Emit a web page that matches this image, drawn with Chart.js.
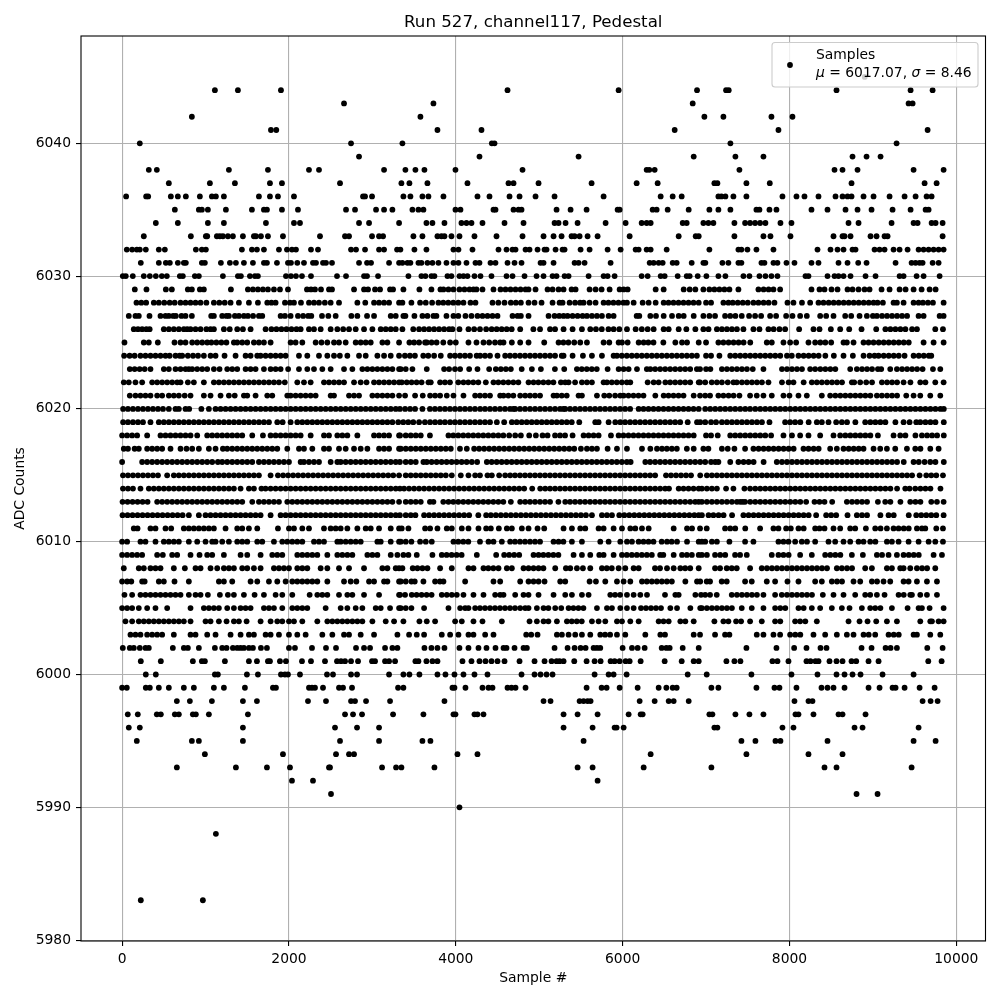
<!DOCTYPE html>
<html>
<head>
<meta charset="utf-8">
<title>Run 527, channel117, Pedestal</title>
<script src="https://cdn.jsdelivr.net/npm/chart.js@4"></script>
<style>
  html, body { margin: 0; padding: 0; background: #fff; }
  canvas { display: block; }
</style>
</head>
<body>
<canvas id="pedestal" width="1000" height="1000"></canvas>
<script>
// sample numbers, one array per ADC level
var s6045 = [8902]
var s6044 = [1112,1388,1904,4620,5952,6892,7240,7272,8564,9452,9716]
var s6043 = [2660,3732,6840,9428,9476]
var s6042 = [836,3576,6980,7208,7784,8036]
var s6041 = [1784,1848,3780,4308,6624,7868,9656]
var s6040 = [212,2744,3360,4432,4464,7292,9284]
var s6039 = [2840,4284,5472,6852,7352,7688,8756,8924,9092]
var s6038 = [320,416,1280,1748,2240,2360,3140,3396,3516,3624,3996,4800,6288,6320,6384,7400,8540,8636,8816,9488,9848]
var s6037 = [560,1052,1352,1772,1916,2612,3348,3444,3660,4140,4632,4692,4992,5628,6168,6420,7100,7136,7484,7764,8744,9620,9764]
var s6036 = [48,288,312,584,668,764,932,1076,1124,1220,1640,1772,1868,2060,2888,2912,2996,3372,3456,3600,3672,3852,4260,4404,4644,4764,4956,5184,5772,6456,6600,6708,7148,7184,7232,7328,7484,7916,8084,8180,8348,8552,8636,8696,8744,8888,9008,9200,9380,9512,9644,9704]
var s6035 = [632,920,956,1028,1244,1556,1700,1736,1916,2108,2684,2792,3044,3140,3240,3480,3552,3612,3996,4056,4452,4476,4692,4752,4788,5208,5376,5568,5940,5964,6360,6408,6540,6792,7040,7148,7292,7604,7640,7760,7844,8264,8456,8672,8816,8984,9236,9452,9632,9668]
var s6034 = [404,668,1028,1220,1724,2060,2132,2840,2960,3320,3648,3720,3864,4068,4128,4188,4320,4584,4812,5184,5232,5316,5460,5796,6036,6228,6288,6336,6720,6768,6968,7028,7088,7340,7468,7528,7588,7648,7712,7892,8024,8708,8828,9224,9488,9536,9704,9752,9836]
var s6033 = [260,824,1004,1020,1136,1172,1208,1268,1328,1448,1580,1604,1664,1748,1928,2372,2672,2720,2996,3080,3128,3492,3600,3780,3828,3864,3948,4044,4224,4488,4800,5052,5172,5268,5388,5424,5484,5580,5700,6084,6672,6876,6912,7340,7688,7772,8012,8528,8636,8660,8732,8972,9044,9140,9176,9836]
var s6032 = [56,120,176,212,284,440,512,884,956,1004,1436,1556,1616,1700,1880,1976,2036,2084,2264,2348,2744,2804,2912,3080,3140,3296,3336,3504,3648,3972,4032,4200,4512,4608,4680,4716,4836,4884,4980,5064,5088,5196,5280,5304,5496,5604,5820,5976,6156,6192,6288,6336,6528,7040,7388,7424,7496,7604,7808,8336,8492,8576,8648,8756,8792,9020,9080,9140,9248,9320,9416,9548,9608,9668,9728,9788,9848]
var s6031 = [224,440,524,572,668,740,764,956,992,1184,1292,1364,1460,1568,1700,1736,1856,1988,2024,2100,2180,2288,2324,2408,2444,2516,2840,2936,2984,3200,3320,3360,3420,3456,3552,3588,3660,3720,3792,3888,3972,4032,4128,4236,4284,4416,4476,4620,4704,4788,5016,5052,5172,5424,5472,5544,5856,6324,6372,6432,6480,6600,6648,6828,6968,6992,7196,7268,7388,7424,7664,7700,7808,7856,7964,8060,8264,8348,8588,8696,8824,8924,9272,9464,9512,9560,9596,9716,9788]
var s6030 = [8,44,128,260,332,404,476,536,692,728,872,920,1208,1388,1424,1532,1592,1628,1964,2024,2084,2156,2264,2576,2684,2900,2936,3068,3432,3588,3636,3708,3744,3900,3948,4044,4092,4140,4224,4296,4428,4608,4680,4824,4968,5052,5160,5208,5304,5352,5592,5772,5820,5904,6228,6300,6456,6504,6660,6768,6804,6900,7004,7148,7232,7448,7520,7640,7712,7784,7856,8192,8228,8456,8540,8588,8648,8732,8912,9032,9320,9368,9524,9608,9800]
var s6029 = [152,292,524,596,788,836,932,980,1304,1508,1568,1628,1688,1748,1820,1892,1988,2216,2264,2312,2384,2480,2516,2780,2900,2948,3032,3092,3212,3248,3372,3564,3708,3816,3852,3912,3972,4044,4104,4164,4212,4248,4320,4452,4536,4596,4656,4716,4776,4836,4872,4956,5100,5160,5232,5292,5388,5436,5604,5676,5748,5844,5964,6012,6060,6396,6492,6732,6804,6872,6968,7040,7100,7160,7220,7280,7388,7628,7690,7750,7808,7888,8264,8360,8420,8504,8576,8696,8756,8828,8900,8960,9104,9200,9320,9392,9488,9584,9680,9752]
var s6028 = [172,230,288,380,440,505,570,630,700,760,820,880,940,1010,1100,1165,1230,1300,1400,1520,1628,1740,1790,1840,1952,2012,2060,2144,2240,2300,2360,2430,2500,2600,2820,2915,3020,3080,3140,3200,3320,3360,3468,3572,3640,3716,3792,3850,3910,3970,4030,4092,4176,4236,4440,4510,4584,4660,4720,4780,4872,4944,5028,5160,5244,5280,5364,5430,5490,5532,5604,5676,5772,5830,5890,5950,6010,6052,6132,6240,6312,6396,6492,6550,6610,6670,6730,6790,6850,6912,7000,7060,7208,7268,7320,7380,7440,7500,7568,7628,7690,7750,7820,7976,8048,8150,8248,8348,8408,8470,8530,8590,8650,8710,8770,8830,8890,8950,9008,9056,9120,9248,9288,9368,9488,9548,9600,9660,9720,9848]
var s6027 = [80,160,200,328,460,520,560,612,644,712,760,836,1068,1100,1200,1250,1280,1352,1400,1460,1508,1570,1640,1680,1900,1952,2020,2108,2170,2230,2268,2396,2472,2560,2748,2820,2936,3020,3220,3280,3372,3396,3504,3600,3660,3732,3768,3888,3972,4030,4116,4188,4260,4320,4380,4440,4500,4680,4740,4780,4872,5112,5184,5240,5292,5340,5400,5460,5520,5572,5632,5692,5752,5832,5892,6168,6200,6332,6400,6492,6592,6672,6732,6852,6968,7040,7108,7228,7290,7352,7428,7516,7588,7660,7768,7840,7960,8036,8128,8208,8368,8440,8528,8668,8740,8840,8928,9000,9048,9110,9170,9230,9290,9350,9410,9548,9608,9800,9848]
var s6026 = [140,190,240,290,330,500,560,620,680,740,780,820,880,940,1010,1060,1100,1220,1290,1380,1448,1540,1720,1790,1850,1910,1970,2030,2090,2140,2240,2300,2380,2500,2580,2650,2720,2800,2900,3000,3100,3160,3220,3280,3360,3490,3560,3620,3680,3740,3800,3860,3920,3960,4044,4152,4220,4290,4364,4430,4490,4550,4610,4670,4772,4930,5010,5130,5190,5292,5400,5512,5612,5680,5750,5830,5892,5960,6052,6156,6230,6300,6372,6492,6552,6672,6764,6872,6968,7030,7130,7190,7250,7310,7370,7448,7568,7640,7748,7810,7880,7948,8116,8288,8360,8496,8608,8716,8864,9040,9150,9210,9270,9330,9390,9470,9528,9748,9840]
var s6025 = [28,260,320,428,628,700,760,840,900,960,1020,1070,1130,1190,1250,1340,1380,1440,1500,1580,1640,1700,1780,2020,2080,2160,2320,2390,2460,2540,2600,2680,2800,2860,2920,2980,3120,3180,3320,3444,3500,3560,3632,3652,3710,3770,3850,3932,4000,4152,4248,4332,4400,4470,4532,4572,4672,4772,4872,5060,5232,5290,5350,5420,5492,5572,5772,5840,5952,5992,6060,6192,6252,6308,6370,6488,6632,6712,6772,6912,7000,7148,7208,7270,7330,7390,7450,7530,7728,7788,7928,8008,8080,8228,8308,8370,8430,8500,8648,8688,8768,8888,8948,9008,9070,9130,9190,9250,9310,9370,9430,9608,9728,9848]
var s6024 = [24,90,150,220,280,340,400,460,520,570,640,690,720,788,850,910,980,1060,1120,1228,1360,1480,1540,1620,1660,1720,1780,1840,1900,1960,2120,2220,2360,2460,2540,2610,2700,2840,2920,3060,3140,3220,3320,3390,3450,3510,3610,3670,3740,3820,3932,3990,4050,4110,4170,4250,4292,4350,4410,4500,4592,4650,4710,4770,4830,4890,4950,5010,5070,5130,5190,5270,5292,5400,5524,5632,5752,5892,5932,5990,6050,6110,6170,6230,6290,6350,6410,6470,6530,6590,6650,6710,6770,6830,6890,7000,7060,7160,7290,7350,7410,7470,7530,7590,7650,7710,7770,7830,7890,7970,8028,8108,8170,8230,8290,8350,8430,8532,8648,8760,8888,8960,9020,9068,9130,9190,9250,9310,9380,9488,9550,9610,9670,9700]
var s6023 = [92,150,210,270,340,500,560,640,700,760,800,840,900,960,1020,1100,1168,1260,1320,1380,1480,1540,1600,1700,1780,1840,1900,1990,2120,2220,2300,2400,2500,2660,2760,2880,2940,3000,3060,3120,3180,3240,3320,3340,3400,3480,3652,3860,3920,3990,4052,4160,4260,4400,4480,4540,4600,4660,4790,4912,5020,5188,5300,5452,5510,5570,5630,5690,5820,5952,6012,6072,6172,6290,6332,6390,6450,6510,6570,6630,6690,6750,6810,6890,6928,7000,7052,7190,7250,7310,7370,7430,7490,7560,7688,7910,7970,8030,8090,8150,8248,8308,8370,8430,8490,8550,8728,8808,8870,8930,8990,9060,9100,9208,9288,9350,9410,9470,9530,9596,9720,9808]
var s6022 = [20,80,160,240,360,420,480,540,600,660,700,788,860,980,1100,1160,1220,1280,1340,1400,1460,1520,1580,1640,1700,1760,1820,1880,1950,2100,2180,2260,2420,2480,2540,2600,2660,2780,2860,2930,3020,3080,3140,3200,3260,3320,3352,3412,3470,3530,3590,3672,3700,3812,3870,3930,4030,4092,4150,4210,4270,4360,4452,4510,4570,4630,4690,4750,4872,4932,4990,5050,5110,5170,5260,5312,5352,5430,5512,5572,5632,5772,5812,5870,5930,5990,6050,6092,6300,6372,6432,6512,6570,6630,6690,6750,6810,6912,6928,6990,7068,7130,7190,7260,7328,7368,7430,7490,7550,7610,7670,7748,7910,7990,8048,8170,8268,8328,8388,8450,8510,8570,8630,8748,8776,8848,8920,8990,9108,9170,9230,9290,9368,9450,9568,9630,9748,9848]
var s6021 = [92,160,220,280,340,420,480,560,620,680,750,820,980,1060,1180,1280,1350,1460,1500,1600,1740,1800,1980,2020,2080,2140,2200,2260,2320,2500,2540,2720,2780,2840,3000,3060,3120,3180,3240,3320,3392,3512,3604,3692,3752,3812,3892,3972,4092,4232,4290,4350,4410,4532,4572,4630,4690,4772,4832,4890,4950,5010,5172,5212,5270,5330,5472,5512,5692,5780,5840,5910,5972,6012,6070,6130,6190,6250,6392,6492,6550,6610,6670,6730,6852,6928,6990,7048,7148,7208,7270,7330,7400,7528,7608,7688,7788,7928,8000,8108,8208,8388,8488,8550,8610,8670,8730,8790,8850,8910,8970,9048,9108,9170,9230,9290,9400,9488,9568,9688,9808]
var s6020 = [12,70,130,190,250,310,370,430,490,560,640,680,760,804,950,1040,1120,1180,1240,1300,1360,1420,1480,1540,1600,1660,1720,1780,1840,1900,1960,2020,2080,2140,2200,2260,2320,2380,2440,2500,2560,2620,2680,2740,2800,2860,2920,2980,3040,3100,3160,3220,3280,3330,3392,3452,3512,3600,3690,3750,3810,3870,3930,3990,4050,4110,4170,4230,4292,4350,4410,4470,4530,4590,4650,4690,4712,4770,4830,4890,4950,5010,5070,5130,5190,5250,5290,5312,5370,5430,5490,5550,5610,5670,5730,5790,5850,5910,5970,6030,6090,6192,6250,6310,6370,6430,6490,6550,6610,6670,6730,6790,6850,6912,6990,7050,7110,7170,7230,7290,7350,7410,7470,7528,7590,7650,7710,7770,7830,7890,7950,8010,8070,8130,8190,8250,8310,8370,8430,8490,8550,8610,8670,8730,8790,8850,8910,8970,9030,9090,9150,9210,9270,9330,9390,9450,9510,9570,9630,9690,9750,9810,9850]
var s6019 = [12,70,130,190,250,340,440,500,560,620,680,740,800,860,920,980,1040,1100,1160,1220,1280,1340,1400,1460,1520,1580,1640,1700,1760,1860,1924,2020,2100,2160,2220,2280,2340,2400,2460,2520,2580,2640,2700,2760,2820,2880,2940,3000,3060,3120,3180,3240,3310,3370,3430,3490,3560,3630,3692,3752,3812,3870,3932,3990,4050,4110,4170,4230,4290,4350,4410,4492,4580,4672,4730,4790,4850,4910,4970,5030,5090,5150,5210,5270,5330,5390,5480,5672,5712,5832,5912,5972,6030,6090,6150,6210,6270,6330,6390,6450,6510,6570,6630,6690,6780,6892,6930,6990,7060,7120,7190,7250,7310,7370,7430,7490,7550,7610,7670,7760,7948,8008,8068,8130,8230,8328,8388,8468,8560,8628,8690,8790,8908,8970,9030,9090,9150,9270,9368,9440,9520,9568,9630,9690,9750,9850]
var s6018 = [0,60,120,180,300,460,520,580,640,700,760,820,900,1020,1080,1140,1200,1260,1320,1380,1440,1560,1688,1780,1840,1900,1960,2020,2080,2140,2260,2420,2480,2580,2640,2700,2820,3020,3080,3140,3200,3320,3332,3400,3460,3520,3580,3690,3912,3970,4030,4090,4150,4210,4270,4330,4390,4450,4510,4570,4640,4712,4780,4880,4960,5040,5100,5190,5250,5310,5400,5532,5592,5652,5712,5860,5952,6010,6070,6130,6190,6250,6310,6370,6430,6490,6550,6610,6670,6730,6790,6852,7000,7060,7140,7290,7350,7410,7470,7530,7590,7650,7710,7780,7928,8030,8128,8228,8368,8528,8608,8670,8730,8790,8850,8910,8970,9060,9248,9328,9390,9510,9588,9650,9710,9770,9850]
var s6017 = [20,70,150,200,300,360,420,480,580,700,772,840,920,1040,1120,1208,1260,1320,1380,1440,1500,1560,1620,1680,1740,1800,1860,1980,2120,2180,2280,2420,2480,2600,2680,2780,2860,2940,3080,3140,3200,3320,3340,3400,3460,3520,3580,3640,3700,3760,3820,3880,3940,4050,4132,4220,4280,4340,4400,4460,4520,4580,4640,4700,4760,4820,4880,4940,5000,5060,5120,5180,5240,5300,5360,5420,5500,5572,5632,5692,5820,5932,6052,6232,6332,6412,6472,6530,6590,6650,6770,6852,6968,7028,7190,7260,7340,7468,7568,7630,7690,7750,7810,7870,7930,7990,8050,8168,8228,8290,8350,8488,8568,8648,8710,8770,8830,8888,9008,9088,9168,9268,9408,9508,9570,9688,9788]
var s6016 = [0,240,300,360,420,480,540,600,660,720,780,840,900,960,1020,1080,1148,1200,1260,1320,1380,1440,1500,1560,1640,1700,1760,1820,1880,1940,2000,2140,2180,2240,2300,2360,2500,2580,2620,2680,2740,2800,2860,2920,2980,3040,3100,3160,3220,3280,3330,3400,3460,3520,3612,3652,3710,3770,3830,3890,3950,4010,4070,4130,4192,4256,4372,4430,4490,4550,4610,4670,4730,4790,4850,4910,4970,5030,5090,5150,5210,5270,5330,5390,5450,5510,5570,5630,5690,5750,5810,5870,5930,5990,6050,6096,6272,6330,6390,6450,6510,6570,6630,6690,6750,6810,6870,6930,6990,7060,7110,7148,7290,7388,7450,7510,7570,7690,7848,7910,7970,8030,8090,8150,8210,8270,8330,8390,8450,8510,8570,8630,8690,8750,8810,8870,8930,8990,9050,9110,9170,9230,9290,9370,9488,9550,9620,9688,9750,9850]
var s6015 = [10,70,130,190,250,310,370,430,540,620,680,740,800,860,920,980,1040,1100,1160,1220,1280,1340,1400,1460,1520,1580,1640,1780,1868,1930,1990,2050,2110,2170,2230,2290,2350,2410,2470,2530,2590,2650,2710,2770,2830,2890,2950,3010,3070,3130,3190,3250,3320,3400,3460,3520,3580,3640,3700,3760,3820,3880,3952,4060,4152,4232,4290,4380,4432,4520,4592,4652,4710,4770,4830,4890,4950,5010,5070,5130,5190,5250,5310,5370,5430,5490,5550,5610,5670,5730,5790,5850,5910,5970,6030,6090,6150,6210,6270,6330,6390,6520,6580,6640,6700,6760,6820,6930,7010,7070,7130,7190,7250,7310,7370,7430,7490,7550,7610,7670,7730,7790,7850,7910,7970,8030,8090,8150,8210,8270,8330,8390,8450,8510,8570,8630,8690,8750,8810,8870,8930,8990,9050,9110,9170,9230,9290,9350,9410,9470,9560,9640,9700,9760,9840]
var s6014 = [10,70,130,220,320,380,440,500,560,620,680,740,800,860,920,980,1040,1100,1160,1220,1280,1340,1420,1520,1580,1670,1720,1780,1840,1900,1960,2020,2080,2140,2200,2260,2320,2380,2440,2500,2560,2620,2680,2740,2800,2860,2920,2980,3040,3100,3160,3220,3280,3330,3380,3440,3500,3560,3620,3680,3740,3800,3860,3920,3980,4040,4100,4160,4220,4280,4340,4400,4460,4520,4580,4640,4700,4760,4820,4916,5012,5072,5130,5190,5250,5310,5370,5430,5490,5550,5610,5670,5730,5790,5850,5910,5970,6030,6090,6150,6210,6270,6330,6390,6450,6510,6556,6672,6730,6790,6850,6912,6950,7010,7070,7130,7240,7328,7460,7528,7590,7650,7710,7770,7830,7890,7950,8010,8070,8130,8190,8250,8310,8370,8430,8490,8550,8610,8670,8730,8790,8850,8910,8970,9030,9090,9150,9210,9290,9388,9440,9508,9570,9630,9690,9810]
var s6013 = [5,65,125,185,245,305,420,480,540,600,660,720,780,840,900,960,1020,1080,1140,1200,1260,1320,1380,1440,1560,1640,1700,1760,1820,1880,1980,2040,2100,2160,2220,2280,2340,2400,2460,2520,2580,2640,2700,2760,2820,2880,2940,3000,3060,3120,3180,3240,3320,3400,3460,3520,3580,3690,3732,3850,3912,3970,4030,4090,4150,4210,4270,4330,4390,4450,4510,4570,4660,4772,4832,4890,4950,5010,5070,5130,5230,5312,5370,5430,5490,5550,5610,5670,5730,5790,5850,5910,5970,6030,6090,6150,6210,6270,6330,6390,6450,6510,6570,6630,6690,6750,6810,6870,6912,6950,7010,7070,7130,7190,7250,7310,7370,7410,7440,7468,7530,7590,7650,7710,7770,7830,7890,7950,8010,8070,8130,8200,8300,8360,8420,8512,8688,8750,8810,8870,8930,9060,9148,9210,9330,9448,9510,9570,9700,9768,9848]
var s6012 = [5,65,125,185,245,305,365,425,485,545,605,665,725,800,920,1000,1060,1120,1180,1240,1300,1360,1420,1480,1540,1600,1660,1780,1900,1960,2020,2080,2140,2200,2260,2320,2380,2440,2500,2560,2620,2680,2740,2800,2860,2920,2980,3040,3100,3160,3220,3280,3330,3400,3460,3516,3620,3680,3740,3800,3860,3920,3980,4040,4100,4160,4270,4364,4420,4480,4540,4600,4660,4720,4780,4840,4900,4960,5020,5080,5140,5200,5260,5320,5380,5440,5500,5560,5632,5752,5812,5872,5960,6020,6080,6140,6200,6260,6320,6380,6440,6500,6560,6620,6680,6740,6800,6860,6912,6950,7030,7088,7150,7210,7312,7448,7510,7570,7630,7690,7750,7810,7870,7930,7990,8050,8110,8170,8230,8320,8440,8500,8560,8696,8808,8870,8930,9090,9188,9250,9430,9520,9580,9640,9700,9760,9848]
var s6011 = [140,185,340,400,520,588,740,800,860,920,980,1040,1100,1240,1380,1440,1520,1620,1868,2000,2060,2160,2240,2420,2500,2560,2620,2700,2820,2920,2980,3080,3220,3320,3352,3432,3632,3692,3780,3892,3952,4072,4152,4272,4364,4420,4516,4612,4672,4792,4872,4980,5060,5292,5392,5492,5552,5712,5772,5892,5992,6092,6152,6232,6312,6612,6772,6832,6928,7008,7228,7290,7350,7470,7648,7808,7868,7960,8016,8108,8170,8308,8360,8420,8528,8608,8728,8788,8916,9028,9092,9168,9248,9308,9370,9430,9528,9588,9628,9760,9840]
var s6010 = [0,60,220,280,400,500,560,620,680,800,900,1000,1080,1120,1200,1280,1380,1440,1500,1620,1680,1820,1920,1980,2040,2100,2160,2300,2360,2420,2580,2620,2680,2740,2800,2860,3060,3100,3220,3320,3340,3400,3468,3572,3640,3712,3972,4030,4090,4150,4290,4392,4452,4552,4652,4710,4770,4830,4890,4950,5010,5172,5232,5290,5392,5512,5732,5832,5972,6052,6112,6192,6250,6310,6370,6468,6532,6588,6652,6772,6912,6950,6990,7070,7130,7280,7468,7568,7868,7928,7988,8068,8148,8210,8308,8468,8548,8648,8728,8828,8888,8968,9030,9168,9228,9308,9428,9548,9668,9748,9840]
var s6009 = [0,60,120,180,240,420,488,600,660,820,928,1020,1080,1220,1420,1500,1660,1800,1860,1920,2100,2160,2220,2280,2340,2460,2580,2640,2700,2760,2940,3000,3060,3220,3300,3372,3432,3532,3720,3832,3890,3950,4010,4070,4252,4484,4580,4640,4700,4760,4932,4992,5050,5110,5170,5230,5412,5512,5612,5720,5772,5892,5992,6050,6110,6170,6230,6290,6350,6450,6488,6612,6712,6770,6830,6912,6950,7010,7108,7170,7230,7348,7408,7488,7788,7868,7928,7990,8128,8268,8428,8490,8550,8610,8748,8880,9048,9110,9188,9288,9368,9430,9490,9550,9728,9828]
var s6008 = [20,200,260,340,400,460,620,752,880,940,1060,1140,1220,1280,1340,1440,1500,1580,1660,1820,1880,1940,2000,2100,2160,2220,2380,2460,2600,2720,2900,3120,3180,3280,3320,3360,3484,3540,3600,3660,3812,3952,4152,4212,4332,4390,4450,4512,4612,4672,4812,4872,4932,4992,5050,5192,5320,5372,5452,5524,5612,5752,5810,5870,5952,6032,6132,6192,6388,6448,6532,6612,6692,6750,6810,6912,7108,7168,7248,7308,7368,7528,7668,7730,7790,7850,7910,7970,8030,8090,8150,8210,8270,8330,8390,8450,8568,8628,8690,8750,8908,8988,9168,9228,9328,9368,9448,9528,9590,9650,9748]
var s6007 = [0,60,110,240,270,440,500,628,800,1160,1220,1320,1540,1620,1760,1860,1960,2040,2100,2160,2220,2280,2340,2460,2660,2740,2808,2960,3020,3140,3180,3320,3340,3400,3468,3508,3612,3752,3810,3852,4112,4452,4532,4772,4872,4932,4992,5064,5252,5312,5604,5680,5792,5932,6012,6092,6232,6290,6350,6410,6470,6530,6590,6752,6892,6930,7008,7048,7188,7248,7468,7548,7728,7828,7976,8108,8308,8388,8508,8570,8630,8768,8848,8988,9050,9128,9208,9368,9428,9528,9648,9768]
var s6006 = [28,120,220,280,340,400,460,520,580,640,700,800,880,940,1028,1172,1268,1340,1460,1588,1700,1840,1920,2040,2248,2340,2400,2460,2600,2700,2760,2900,3080,3320,3332,3392,3472,3530,3590,3650,3710,3832,3892,3952,4012,4092,4212,4332,4472,4532,4572,4712,4812,4872,4992,5172,5312,5392,5512,5592,5852,5910,5970,6052,6132,6212,6292,6508,6632,6672,6872,6940,6990,7048,7128,7308,7370,7430,7490,7550,7610,7688,7828,7908,7970,8030,8090,8150,8210,8270,8400,8528,8648,8788,8908,8968,9048,9140,9308,9370,9448,9468,9568,9648,9768]
var s6005 = [0,60,120,200,300,400,540,820,980,1040,1100,1160,1260,1340,1420,1480,1540,1700,1760,1820,1920,2040,2100,2160,2220,2440,2620,2700,2800,2880,3040,3100,3212,3320,3340,3400,3468,3620,3912,4052,4112,4152,4232,4290,4350,4410,4470,4530,4590,4650,4710,4772,4832,4872,4972,5052,5110,5192,5264,5352,5410,5470,5530,5692,5812,5872,5972,6052,6132,6220,6280,6340,6400,6460,6572,6652,6812,6930,6950,7010,7070,7130,7190,7250,7310,7428,7548,7688,7828,7890,7950,8108,8170,8268,8368,8508,8628,8720,8868,8968,9028,9090,9228,9416,9548,9588,9680,9848]
var s6004 = [40,120,200,260,320,380,440,500,560,620,680,740,820,1000,1060,1160,1252,1340,1400,1492,1660,1780,1860,1920,2000,2060,2160,2340,2460,2520,2580,2640,2700,2760,2820,2880,3000,3160,3260,3372,3564,3652,3752,3992,4072,4212,4320,4552,4884,4972,5052,5110,5212,5332,5390,5450,5510,5632,5712,5792,5932,5992,6092,6192,6432,6490,6552,6692,6752,6852,7100,7208,7268,7360,7420,7528,7668,7828,7890,8068,8128,8190,8328,8708,8840,8936,9040,9168,9288,9568,9688,9708,9788,9848]
var s6003 = [100,160,220,300,360,420,480,620,820,880,1020,1120,1300,1420,1520,1580,1720,1780,1880,2000,2100,2200,2400,2520,2660,2720,2860,3020,3300,3440,3532,3620,3832,3932,4032,4152,4212,4352,4452,4844,4904,4980,5212,5272,5352,5432,5512,5612,5732,5790,5850,5932,6032,6272,6452,6508,6852,6928,7108,7228,7280,7608,7688,7808,7888,8008,8070,8130,8288,8428,8568,8688,8768,8888,8950,9028,9188,9250,9310,9488,9528,9688,9808]
var s6002 = [8,92,140,212,280,320,608,740,788,920,1112,1200,1252,1328,1380,1420,1460,1520,1568,1664,1736,2000,2072,2276,2444,2564,2804,2900,2972,3152,3240,3300,3624,3708,3780,3864,4044,4152,4272,4368,4476,4572,4608,4704,4812,4852,5184,5340,5424,5496,5556,5652,5692,5732,6000,6112,6180,6264,6468,6524,6564,6720,6912,7484,7844,8056,8204,8372,8444,8864,8984,9152,9212,9288,9652,9836]
var s6001 = [224,464,848,956,992,1232,1520,1616,1748,1772,1892,1964,2156,2264,2432,2576,2624,2672,2744,2828,2996,3032,3152,3200,3272,3516,3552,3648,3720,3780,4080,4188,4284,4356,4428,4500,4584,4764,4944,5064,5148,5208,5244,5292,5420,5568,5664,5736,5856,5904,5964,6036,6084,6216,6504,6708,6852,6912,7244,7340,7412,7796,7856,7988,8204,8252,8312,8348,8480,8564,8636,8744,8800,8948,9068,9664,9824]
var s6000 = [284,404,1112,1148,1496,1628,1904,1952,1988,2132,2456,2528,2744,2816,3200,3372,3444,3564,3780,3876,3984,4092,4224,4380,4788,4944,5016,5088,5160,5664,5832,5892,6048,6780,7008,7544,8024,8336,8564,8660,8756,8852,9116,9488]
var s5999 = [0,56,284,332,440,560,740,860,1100,1220,1472,1808,1844,2240,2276,2312,2408,2600,2648,2756,3308,3372,3960,3984,4116,4320,4392,4440,4620,4668,4716,4836,5568,5748,5808,5964,6180,6432,6524,6600,6648,7064,7148,7604,7820,7880,8084,8384,8456,8528,8660,8948,9080,9236,9272,9380,9560,9740]
var s5998 = [656,812,1076,1448,1616,2228,2444,2744,2792,2924,3212,3864,5052,5136,5484,5532,5580,5616,6204,6384,6552,6612,6792,8060,8228,8276,9596,9692,9776]
var s5997 = [68,188,416,464,632,680,848,884,1040,1508,2672,2768,2876,3248,3612,3972,3996,4224,4260,4332,5292,5460,5700,6072,6216,6240,7040,7076,7352,7520,7688,8072,8108,8288,8588,8636,8912]
var s5996 = [80,212,1448,2552,2816,3080,5292,5640,5904,5928,6012,7100,7136,7916,8048,8780,8876,9548]
var s5995 = [176,836,920,1448,2612,3080,3600,3696,5532,7424,7592,7832,7892,8456,9488,9752]
var s5994 = [992,1928,2564,2720,2780,4020,4260,6336,7484,8228,8636]
var s5993 = [656,1364,1736,2012,2480,2492,3116,3284,3348,3744,5460,5640,6252,7064,8420,8564,9464]
var s5992 = [2036,2288,5700]
var s5991 = [2504,8804,9056]
var s5990 = [4044]
var s5988 = [1124]
var s5983 = [224,968]

var adcLevels = [6045,6044,6043,6042,6041,6040,6039,6038,6037,6036,6035,6034,6033,6032,6031,6030,6029,6028,6027,6026,6025,6024,6023,6022,6021,6020,6019,6018,6017,6016,6015,6014,6013,6012,6011,6010,6009,6008,6007,6006,6005,6004,6003,6002,6001,6000,5999,5998,5997,5996,5995,5994,5993,5992,5991,5990,5988,5983]
var samplesByLevel = [s6045,s6044,s6043,s6042,s6041,s6040,s6039,s6038,s6037,s6036,s6035,s6034,s6033,s6032,s6031,s6030,s6029,s6028,s6027,s6026,s6025,s6024,s6023,s6022,s6021,s6020,s6019,s6018,s6017,s6016,s6015,s6014,s6013,s6012,s6011,s6010,s6009,s6008,s6007,s6006,s6005,s6004,s6003,s6002,s6001,s6000,s5999,s5998,s5997,s5996,s5995,s5994,s5993,s5992,s5991,s5990,s5988,s5983]

var xTickValues = [0,2000,4000,6000,8000,10000]
var yTickValues = [5980,5990,6000,6010,6020,6030,6040]

var points = []
adcLevels.forEach(function(level, i) {
    samplesByLevel[i].forEach(function(sample) {
        points.push({x: sample, y: level})
    })
})

var fontName = '"DejaVu Sans"'
var tickSize = 13.89

function useTicks(values) {
    return function(scale) {
        scale.ticks = values.map(function(v) { return {value: v} })
    }
}

// matplotlib style frame and the legend with the italic mu and sigma
var framePlugin = {
    id: 'frameAndLegend',
    afterDraw: function(chart) {
        var ctx = chart.ctx
        var area = chart.chartArea
        ctx.save()
        ctx.strokeStyle = '#000'
        ctx.lineWidth = 1.1
        ctx.strokeRect(area.left, area.top, area.right - area.left, area.bottom - area.top)

        ctx.beginPath()
        ctx.roundRect(772, 42.5, 206, 44.5, 3)
        ctx.fillStyle = 'rgba(255,255,255,0.8)'
        ctx.fill()
        ctx.strokeStyle = '#cccccc'
        ctx.lineWidth = 1.1
        ctx.stroke()

        ctx.beginPath()
        ctx.arc(790, 65, 2.9, 0, Math.PI * 2)
        ctx.fillStyle = '#000'
        ctx.fill()

        ctx.fillStyle = '#000'
        ctx.textBaseline = 'alphabetic'
        ctx.font = tickSize + 'px ' + fontName
        ctx.fillText('Samples', 816, 59)
        var x = 816
        var parts = [['italic', 'μ'], ['normal', ' = 6017.07, '], ['italic', 'σ'], ['normal', ' = 8.46']]
        parts.forEach(function(part) {
            ctx.font = part[0] + ' ' + tickSize + 'px ' + fontName
            ctx.fillText(part[1], x, 76.5)
            x += ctx.measureText(part[1]).width
        })
        ctx.restore()
    }
}

var chart = new Chart(document.getElementById('pedestal'), {
    type: 'scatter',
    data: {
        datasets: [{
            label: 'Samples',
            data: points,
            backgroundColor: '#000',
            borderColor: '#000',
            pointRadius: 2.9,
            borderWidth: 0,
            hoverRadius: 2.9
        }]
    },
    options: {
        responsive: false,
        animation: false,
        events: [],
        layout: { padding: { right: 14.5 } },
        plugins: {
            legend: { display: false },
            tooltip: { enabled: false },
            title: {
                display: true,
                text: 'Run 527, channel117, Pedestal',
                color: '#000',
                fullSize: false,
                font: { family: fontName, size: 16.67, weight: 'normal' },
                padding: { top: 13, bottom: 3 }
            }
        },
        scales: {
            x: {
                type: 'linear',
                min: -493,
                max: 10350,
                afterBuildTicks: useTicks(xTickValues),
                afterFit: function(scale) { scale.height = 59 },
                grid: { color: '#b0b0b0', lineWidth: 1.1, tickColor: '#000', tickLength: 5 },
                border: { display: false },
                ticks: {
                    maxRotation: 0,
                    autoSkip: false,
                    color: '#000',
                    padding: 5,
                    font: { family: fontName, size: tickSize },
                    callback: function(v) { return String(v) }
                },
                title: {
                    display: true,
                    text: 'Sample #',
                    color: '#000',
                    font: { family: fontName, size: tickSize },
                    padding: { top: 0, bottom: 13 }
                }
            },
            y: {
                type: 'linear',
                min: 5979.93,
                max: 6048.08,
                afterBuildTicks: useTicks(yTickValues),
                afterFit: function(scale) { scale.width = 81 },
                grid: { color: '#b0b0b0', lineWidth: 1.1, tickColor: '#000', tickLength: 5 },
                border: { display: false },
                ticks: {
                    autoSkip: false,
                    color: '#000',
                    padding: 5,
                    font: { family: fontName, size: tickSize },
                    callback: function(v) { return String(v) }
                },
                title: {
                    display: true,
                    text: 'ADC Counts',
                    color: '#000',
                    font: { family: fontName, size: tickSize },
                    padding: { top: 12, bottom: 0 }
                }
            }
        }
    },
    plugins: [framePlugin]
})
</script>
</body>
</html>
